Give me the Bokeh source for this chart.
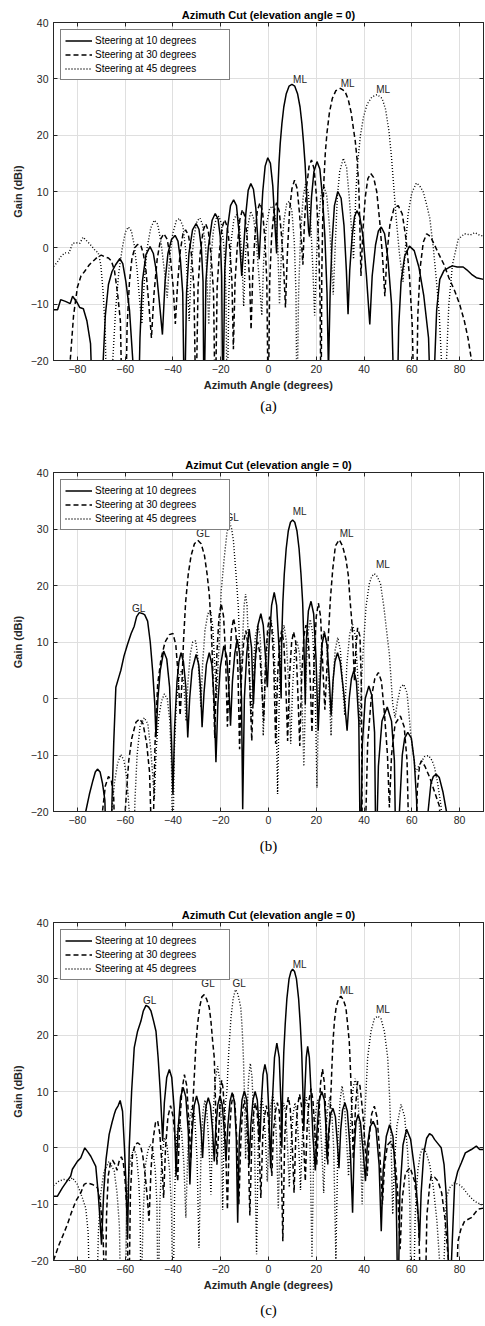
from bokeh.plotting import figure
from bokeh.models import Range1d, LinearAxis, FixedTicker, Legend, LegendItem, Title
from bokeh.layouts import column
from bokeh.embed import file_html
from bokeh.resources import INLINE
from bokeh.core.properties import value

X_TICKS = [-80, -60, -40, -20, 0, 20, 40, 60, 80]
Y_TICKS = [-20, -10, 0, 10, 20, 30, 40]
LEGEND_LABELS = ["Steering at 10 degrees", "Steering at 30 degrees", "Steering at 45 degrees"]
TITLES = ["Azimuth Cut (elevation angle = 0)", "Azimut Cut (elevation angle = 0)", "Azimuth Cut (elevation angle = 0)"]
CAPTIONS = ["(a)", "(b)", "(c)"]

# ---------------- panel (a): (azimuth deg, gain dBi) ----------------
A_STEER10 = [(-90,-11.0),(-88.3,-11.0),(-87,-9.2),(-85,-9.5),(-83,-9.9),(-82,-8.6),(-80,-9.8),(-79,-10.6),(-77.5,-10.8),(-76,-13),(-74.5,-17),(-73.5,-30),
(-70,-30),(-69.2,-20),(-68.3,-12),(-67,-6.5),(-65.5,-4.2),(-64,-3),(-62.2,-1.9),(-61,-2.8),(-59.7,-6),(-58.2,-11),(-56.8,-20),(-56,-30),
(-54.5,-30),(-53.8,-16),(-52.8,-6),(-51.3,-1.2),(-49.6,0.2),(-48.2,-1),(-47,-4),(-45.6,-10),(-44.4,-15.4),
(-43.3,-6),(-42.1,-1),(-40.6,1.5),(-39.1,2.2),(-37.9,1.2),(-36.9,-2),(-35.9,-8),(-35.2,-30),
(-34.3,-8),(-33.3,-1),(-31.8,3.2),(-30.3,4.3),(-29.1,3.3),(-28.1,0),(-27.4,-6),(-27,-30),
(-26.2,-6),(-25.2,0),(-23.6,4.9),(-22.3,6.1),(-21.1,5.1),(-20.2,2),(-19.6,-5),(-19.1,-30),
(-18.3,-4),(-17.3,3),(-15.9,7.5),(-14.6,8.5),(-13.4,7.5),(-12.5,3.5),(-11.8,-1),(-11.2,-5),
(-10.4,0),(-9.5,6),(-8.5,10.2),(-7.4,11.4),(-6.3,10.4),(-5.3,7),(-4.4,1),(-3.9,-2),
(-3.2,4),(-2.4,10),(-1.4,14.5),(-0.3,16),(0.8,15),(1.8,11),(2.7,4),(3.4,-1),
(3.6,4),(3.9,10),(4.4,15),(4.9,18.5),(5.6,22),(6.4,25),(7.4,27.3),(8.6,28.7),(9.8,29),(11,28.7),(12.2,27.3),(13.2,25),(14,22),(14.7,18.5),(15.3,15),(15.8,11),(16.3,6.5),(16.8,3),(17.2,2),
(18,9),(19,13.5),(20.3,15.3),(21.5,14),(22.6,9),(23.6,2),(24.5,-8),(25.1,-22),
(25.8,-8),(26.6,1),(27.6,7.5),(29,10),(30.4,8.8),(31.6,4),(32.6,-4),(33.3,-11.8),
(34,-4),(35,2),(36,5.5),(37,6.6),(38.2,5.6),(39.6,2),(41,-5),(42.4,-13.6),
(43.4,-5),(44.8,0.5),(46,3),(47.2,3.7),(48.6,2.5),(50,-2),(51.5,-10),(52.7,-30),
(53.8,-30),(54.5,-14),(55.5,-6),(57,-1.5),(59,0.3),(61,-0.5),(63,-3.5),(65,-8.5),(67,-16),(68,-30),
(69,-30),(69.6,-20),(70.4,-11),(71.7,-5.6),(73.5,-4),(75.5,-3.5),(77,-3.2),(79,-3.4),(81.5,-3.4),(83,-3.9),(85,-4.7),(87,-5.3),(90,-5.6)]

A_STEER30 = [(-90,-30),(-83.8,-30),(-83,-20),(-81.6,-12),(-80,-7),(-78.5,-5),(-77,-4.2),(-75,-3),(-73,-2.2),(-71.5,-1.6),(-70,-1.3),(-68.5,-1.6),(-67,-1.8),(-65.8,-2.3),(-64.5,-4),(-63.2,-8),(-62,-13),(-61.2,-30),
(-59.8,-30),(-59.2,-14),(-58.2,-6),(-57.2,-2),(-56,0),(-54.8,0.6),(-53.5,0.5),(-52.4,-1),(-51.3,-4),(-50.1,-10),(-49,-16),
(-47.9,-8),(-46.6,-2),(-45.2,1.5),(-43.8,2.5),(-42.4,1.5),(-41,-2),(-39.9,-7),(-39,-13.5),
(-38,-6),(-36.9,-0.5),(-35.8,2.5),(-34.7,3.2),(-33.5,2.2),(-32.3,-1),(-31.2,-7),(-30.4,-30),
(-29.5,-7),(-28.6,-1),(-27.4,3),(-26.3,4.3),(-25.2,3),(-24.1,-1),(-23,-8),(-22.3,-30),
(-21.5,-7),(-20.6,-1),(-19.5,3.5),(-18.4,5),(-17.3,3.8),(-16.2,0),(-15.3,-6),(-14.7,-18),
(-14,-6),(-13.1,0),(-12,5),(-10.9,6.8),(-9.8,5.5),(-8.8,1),(-7.9,-6),(-7.3,-14.5),
(-6.6,-5),(-5.7,2),(-4.7,6.5),(-3.6,8),(-2.5,6.5),(-1.5,1.5),(-0.7,-6),(-0.1,-30),
(0.5,-6),(1.3,2),(2.3,6.5),(3.4,8),(4.5,6.5),(5.5,2),(6.4,-4),(7.1,-10.6),
(7.9,-1),(8.8,6.5),(9.8,10.5),(10.9,12),(12,10.5),(13,6),(13.8,1),(14.4,-3),
(15,4),(16,11),(17,14.5),(18,15.6),(19.1,14),(20.1,9),(21,1),(21.6,-10),(22,-30),
(22.3,-5),(22.7,5),(23.2,12),(23.8,17),(24.5,20.5),(25.5,24),(26.7,26.5),(28.2,27.9),(30.1,28.3),(32,27.8),(33.4,26.3),(34.6,24),(35.6,21),(36.3,19),(37.1,15.6),(37.8,10.8),(38.3,3),(38.7,-5),
(39.5,3),(40.5,9),(41.6,12.3),(42.8,13.2),(44,12.5),(45.3,10),(46.6,4.5),(47.8,-2),(48.7,-8.6),
(49.6,-1),(50.8,4),(52.5,7),(54.3,7.5),(56,6),(57.6,1.5),(59,-5),(60.2,-14),(61,-30),
(61.9,-30),(62.5,-12),(63.5,-3.5),(64.8,1),(66.2,2.5),(67.8,2),(69.5,0.5),(71.5,-1.3),(73.5,-3),(75.5,-5.3),(78,-7.7),(80,-10),(82,-13),(83.5,-16),(85,-20),(86,-30),(90,-30)]

A_STEER45 = [(-90,-3.3),(-88.5,-2.6),(-87,-1.6),(-85.3,-0.9),(-83.5,-0.9),(-82,0.8),(-80.5,0.9),(-79,0.8),(-77.6,1.9),(-76,1.2),(-74,0.3),(-72.5,-0.5),(-71.3,-0.8),(-70.2,-3),(-69.2,-8),(-68.3,-15),(-67.7,-30),
(-66,-30),(-65.2,-20),(-64,-11),(-62.7,-4.5),(-61.2,0),(-59.9,2.8),(-58.7,3.7),(-57.4,3),(-56.2,0.5),(-55,-4),(-53.8,-10),(-53,-13.5),
(-52,-6),(-50.8,0),(-49.3,3.5),(-47.8,4.9),(-46.4,4.2),(-45,1),(-43.6,-4),(-42.4,-8.9),
(-41.4,-2),(-40.1,2.5),(-38.6,4.8),(-37.2,5.2),(-35.8,3.8),(-34.5,-1),(-33.2,-13),
(-32.3,-3),(-31.2,2),(-29.9,4.8),(-28.7,5.3),(-27.5,4),(-26.3,0),(-25,-13.6),
(-24.1,-2),(-23.1,3),(-21.9,5.2),(-20.8,5.6),(-19.7,4.3),(-18.6,0),(-17.8,-8),(-17.3,-30),
(-16.6,-8),(-15.7,1),(-14.5,5),(-13.4,5.9),(-12.3,4.6),(-11.2,-1),(-10.4,-10.4),
(-9.6,-1),(-8.6,4),(-7.4,6.5),(-6.2,5.2),(-5.1,1),(-4,-5),(-2.8,-12),
(-2,-2),(-0.9,4),(0.5,7),(1.7,7.4),(2.9,5.5),(3.9,0),(4.6,-10),
(5.4,-1),(6.5,5),(7.6,7.8),(8.7,8.3),(9.8,6.5),(10.8,1),(11.5,-8),(11.9,-30),
(12.6,-8),(13.5,3),(14.5,9),(15.5,11.3),(16.6,10),(17.6,5),(18.6,-4),(19.3,-12),
(20,-3),(21,5),(22,9.5),(23.2,11),(24.4,9.2),(25.5,4),(26.4,-2),(27.1,-8.3),
(27.9,0),(28.8,9),(29.8,13.5),(31.3,15.9),(32.7,14.2),(33.8,9),(34.8,3),(35.6,-2),
(36.1,4),(36.6,10),(37.3,15),(38.5,20),(39.8,23.3),(41.3,25.5),(43.3,26.8),(45.5,27.2),(47.6,26.5),(49,24.6),(50.4,20.8),(51.5,16),(52.5,10.5),(53.5,5),(54.8,-1),(56.3,-6),
(57.3,0),(58.4,5.9),(60,9.8),(61.9,11.5),(63.3,11),(64.7,10),(66,8),(67.5,5.3),(69,0),(70.3,-5.9),(71.5,-12),(72.4,-20),(73.3,-30),
(74.5,-20),(75.5,-10),(77,-3),(79.4,1.5),(82,2.5),(84.5,2.3),(86.4,2.7),(88.5,2.2),(90,2.1)]

A_LABEL_X = [10.3, 30.2, 45.1]
A_LABEL_Y = [29.9, 29.1, 28.1]
A_LABEL_TEXT = ["ML", "ML", "ML"]

# ---------------- panel (b) ----------------
B_STEER10 = [(-90,-30),(-77,-30),(-76.5,-20),(-75,-17),(-73.5,-14.5),(-72.5,-13),(-71.6,-12.5),(-70.5,-13),(-69.5,-15),(-68.5,-18),(-67.7,-30),
(-66,-30),(-65.5,-18),(-64.8,-8),(-63.9,2),(-62.5,4),(-61.8,5),(-60.5,7.5),(-59,9.6),(-57.5,11.5),(-56.2,12.8),(-55.2,14.5),(-54.1,15.2),(-52.5,15),(-51.8,14.8),(-50.6,13.7),(-49.5,10),(-48.5,4.9),(-47.6,-1),(-47.1,-6.9),
(-46.3,0),(-45.3,5),(-43.9,8.4),(-42.6,7),(-41.4,2),(-40.6,-8),(-40,-17),
(-39.3,-5),(-38.3,3),(-37.5,6.5),(-36.6,8.1),(-35.6,6.5),(-34.6,2),(-33.8,-6.9),
(-33,0),(-32,5),(-30.3,7.8),(-29.2,6),(-28.4,1.5),(-27.8,-5.1),
(-27,1),(-26,6),(-24.8,8.1),(-23.7,6),(-22.8,0),(-22,-11.3),
(-21.2,-1),(-20.2,5.5),(-18.7,9.3),(-17.5,7.5),(-16.6,2),(-15.9,-4.8),
(-15.1,3),(-14.1,8),(-13.1,10.5),(-12.1,8),(-11.3,0),(-10.8,-19.6),
(-10.1,0),(-9.1,8),(-8.1,12.3),(-7.1,9),(-6.3,-1),
(-5.5,7),(-4.4,13),(-3.2,15),(-2.2,13),(-1.2,7),(-0.5,2),
(0.3,10),(1.3,16.5),(2.4,18.8),(3.4,16.5),(4.4,9),(5.3,0),
(5.5,10),(6,17),(6.6,22),(7.4,26.5),(8.3,29.7),(9.2,31.2),(10.1,31.6),(11,31.2),(11.9,29.7),(12.8,26.5),(13.6,22),(14.3,17),(14.8,10),(15.4,-1),
(15.8,10),(16.7,15.5),(17.8,17.2),(18.9,15),(19.9,7),(20.8,-5.7),
(21.6,3),(22.4,9.5),(23.4,11.7),(24.5,9.5),(25.5,3),(26.2,-3),
(27,3),(27.8,6.5),(28.9,8.1),(30,6.5),(31.5,1),(32.9,-5.7),
(33.8,0),(34.7,3.5),(35.7,4.9),(36.8,3),(37.8,-4),(38.5,-30),
(39.3,-8),(40.5,0),(42,2.2),(43.3,0.5),(44.4,-6),(45,-30),
(46,-12),(47.5,-4),(49.7,-1.5),(51.5,-4),(52.7,-11),(53.4,-30),
(54.8,-20),(56,-10),(57,-7),(58.3,-6),(59.8,-7),(61,-11),(62,-18),(62.5,-30),
(66,-30),(66.8,-20),(68,-15),(69,-13.8),(70.2,-13.4),(71.5,-14),(73,-16.5),(74.5,-20),(75.2,-30),(90,-30)]

B_STEER30 = [(-90,-30),(-70.5,-30),(-69.5,-20),(-68.3,-15.5),(-67,-13.8),(-65.8,-14.5),(-64.8,-17.5),(-64,-30),
(-61,-30),(-60,-20),(-58.5,-11),(-57.2,-7),(-55.5,-4.2),(-54,-3.6),(-52.5,-4.5),(-51,-8),(-49.8,-13),(-48.6,-30),
(-47.5,-8),(-46.4,2.5),(-45,7),(-43.3,10),(-41.5,11.3),(-40,11.5),(-38.8,9.5),(-37.8,4),(-37,-3),
(-36.2,3),(-35.6,10),(-34.7,17),(-33.6,22),(-32.4,25.3),(-31,27.4),(-29.6,28),(-28.2,27.4),(-26.8,25.3),(-25.7,22),(-24.8,18.5),(-24,13),(-23.4,6),(-22.9,-1),(-22.5,-7),
(-21.6,8),(-20.7,14.5),(-19.8,16.8),(-18.8,14.5),(-18,8),(-17.2,-5),
(-16.3,6),(-15.5,12),(-14.6,14.2),(-13.7,12),(-12.8,5),(-12.1,-9),
(-11.3,4),(-10.4,10),(-9.5,12),(-8.6,9.5),(-7.8,2),(-7,-7.5),
(-6.2,3),(-5.3,8),(-4.5,10),(-3.6,8),(-2.8,2),(-2,-4),
(-1.2,7),(-0.3,12.5),(0.5,14.5),(1.4,12.5),(2.2,6),(3,-8),
(3.8,4),(4.7,10),(5.5,12),(6.4,10),(7.2,3),(8,-7.5),
(8.8,4),(9.7,10),(10.5,11.8),(11.4,10),(12.2,2),(13.1,-8.4),
(13.9,4),(14.8,11),(15.7,13),(16.6,11),(17.4,4),(18.2,-6),
(19.1,7),(20,14.5),(20.9,16.9),(21.8,14.5),(22.7,6),(23.6,-2),
(24.4,5),(25,10.6),(25.9,17.6),(26.9,22.9),(28,27),(29.6,28.1),(31,27),(32.4,24.7),(33.4,21.8),(34.1,17.6),(35,13),(35.5,8),(36,3),
(36.6,9),(37.3,12.5),(38.3,11),(38.9,2),(39.3,-30),
(40.2,-30),(41.5,-8),(43,0),(44.5,3.5),(46,4.6),(47.3,3),(48.6,-3),(49.8,-10),(50.6,-19.3),
(51.5,-10),(53,-4.5),(55.2,-3.1),(56.8,-5),(58,-11),(59,-30),
(61.5,-30),(62.3,-16),(63.2,-12),(64,-11),(65.5,-12),(67.5,-14),(69.5,-16.5),(71.5,-19),(73.5,-30),(90,-30)]

B_STEER45 = [(-90,-30),(-66.5,-30),(-65.6,-20),(-64.5,-15),(-63.2,-11.5),(-61.8,-9.9),(-60.5,-11),(-59.3,-14),(-58.3,-20),(-57.6,-30),
(-56.6,-30),(-55.9,-18),(-55,-10),(-53.8,-5),(-52,-3.4),(-50.5,-4.5),(-49.3,-9),(-48.4,-14),(-47.8,-17.8),
(-47,-9),(-46,-3.5),(-44.8,-0.5),(-43.6,0.8),(-42.4,0),(-41.3,-4),(-40.6,-12),(-40.1,-30),
(-39.5,-10),(-38.6,-1),(-37.5,3.5),(-36.5,5),(-35.5,3),(-34.5,-4),
(-33.7,3),(-32.7,8),(-31.7,10),(-30.5,10.2),(-29.5,7),(-28.8,2),(-28.3,-1.6),
(-27.6,6),(-26.6,12),(-25.4,15),(-24.3,15.6),(-23.3,12.5),(-22.5,6),(-21.8,0),
(-21.2,5),(-20.6,10),(-19.8,19),(-18.5,25),(-17.4,29.3),(-16.4,31.2),(-15.5,30.2),(-14.7,28),(-13.6,22),(-13.1,19),(-12.6,16),(-12.1,9),(-11.6,2),
(-10.9,10),(-10.2,16.5),(-9.6,18.5),(-9,16.5),(-8.2,8),(-7.3,-4),
(-6.5,5),(-5.5,11),(-4.5,13),(-3.5,11),(-2.8,4),(-2.2,-6.6),
(-1.4,3),(-0.3,11),(1,14),(2.1,11),(3,2),(3.8,-16.9),
(4.6,2),(5.5,10),(6.5,13),(7.5,10),(8.5,2),(9.3,-8),
(10.1,2),(11,8.5),(12,10),(13,8),(14,0),(14.8,-12),
(15.6,3),(16.5,11.5),(17.5,14),(18.5,11.5),(19.5,2),(20.3,-15.8),
(21.1,3),(22.2,9.5),(23.3,12),(24.4,9.5),(25.4,1),(26.2,-6.6),
(27,3),(27.9,8.5),(29,10.8),(30.1,8.5),(31.1,2),(31.9,-3),
(32.8,6),(34,11.5),(35.2,13.1),(36.4,11),(37.5,3),(38.3,-5),
(38.9,3),(39.9,10.3),(40.8,16.2),(42.2,20.3),(43.2,21.6),(44.3,22.1),(45.5,21.6),(46.9,20.3),(48.3,16.2),(49.3,12.5),(49.9,10.3),(50.6,7.8),(52,-1),(53,-3.4),
(54,-0.5),(55.3,2),(56.6,2.5),(58,1),(59.7,-6.9),(61.6,-13),
(63.5,-11.5),(65.3,-10.3),(67,-10.1),(68.5,-11),(69.5,-12.2),(70.8,-15),(72.3,-19.3),(73,-30),(90,-30)]

B_LABEL_X = [-57.1, -30.2, -18.0, 10.1, 29.8, 45.0]
B_LABEL_Y = [16.0, 29.2, 32.0, 33.1, 29.2, 23.7]
B_LABEL_TEXT = ["GL", "GL", "GL", "ML", "ML", "ML"]

# ---------------- panel (c) ----------------
C_STEER10 = [(-90,-8.6),(-88.4,-8.6),(-86.3,-7.1),(-84.5,-6),(-82.8,-5),(-82.1,-3.8),(-80,-2.4),(-78.6,-1.8),(-76.9,0),(-75.5,-0.8),(-74.4,-1.5),(-72.3,-3.3),(-71.3,-8),(-70.5,-13),(-69.9,-17.2),
(-69,-8),(-68,-2),(-66.7,2.4),(-65.5,4.5),(-64.6,5.9),(-63.9,6.8),(-62.9,7.5),(-62.1,8.4),(-61.1,6.5),(-60.3,0),(-59.5,-8),(-59,-16),
(-58.3,0),(-57.3,10),(-56.2,17.8),(-54.8,20.7),(-53.4,22.5),(-52.4,24.3),(-51.3,25.3),(-50.2,25),(-49.2,24.3),(-48.1,22.5),(-47.1,20.7),(-46.2,16),(-45.3,10),(-44.7,5),(-44.3,1.2),
(-43.6,8),(-42.6,12.5),(-41.5,13.9),(-40.5,12.5),(-39.5,7),(-38.7,-5),
(-37.9,3),(-36.8,9),(-35.7,10.7),(-34.6,9),(-33.6,3),(-32.9,-6.5),
(-32.1,2),(-31.1,7.5),(-30.1,9.2),(-29.1,7.5),(-28.2,3),(-27.6,-1.8),
(-26.9,4),(-26.1,7.5),(-25.2,8.9),(-24.3,7.5),(-23.4,3),(-22.7,-2.4),
(-22,4),(-21.2,7.7),(-20.3,9.2),(-19.4,7.7),(-18.5,3),(-17.8,-2.4),
(-17,4),(-16.1,8.3),(-15.2,9.8),(-14.3,8.3),(-13.5,2),(-12.9,-13.3),
(-12.2,2),(-11.1,8.5),(-10.1,10.1),(-9.1,8.5),(-8.6,4),(-8.1,-3),
(-7.4,4),(-6.5,8.5),(-5.6,10),(-4.7,8.5),(-4,4),(-3.6,1),
(-3,8),(-2.3,13),(-1.5,14.8),(-0.6,13),(0.2,6),(0.9,-3.6),
(1.6,8),(2.5,16),(3.5,18.6),(4.5,16),(5.2,8),(5.6,0),
(5.9,10),(6.4,17),(7,22),(7.7,26.5),(8.6,30),(9.4,31.3),(10.1,31.7),(10.9,31.3),(11.7,30),(12.6,26.5),(13.3,22),(13.9,17),(14.4,10),(14.8,3),
(15.2,10),(15.8,16),(16.4,18),(17.1,16),(17.8,10),(18.6,2),(19.6,-4),
(20.3,3),(21.2,8.5),(22.3,10),(23.4,8.5),(24,4),(24.5,-2),
(25.2,3),(26,6),(27,7),(28,5.5),(28.8,1),(29.5,-3.6),
(30.2,3),(31,6.7),(32,8),(33,6.5),(34.3,-1),(35.2,-11.5),
(35.8,-1),(36.6,4.5),(37.5,5.9),(38.5,4.5),(39.7,-1),(40.6,-5.9),
(41.3,0),(42.5,3.7),(43.8,4.7),(45,3.5),(46.3,-3),(47.2,-14.8),
(48,-4),(49.3,2),(50.7,4.1),(52.1,2),(53.4,-7),(54.2,-30),
(55,-8),(56.3,0.5),(57.8,3.3),(59.5,1.5),(61.2,-4),(62.4,-10),(63.2,-16.6),
(63.9,-8),(65,-1),(66.2,1.7),(67.4,2.5),(68.5,2.2),(69.5,1.5),(71,0.7),(72.3,0),(73.5,-3),(74.5,-9),(75.3,-20),(75.8,-30),
(76.6,-20),(77.9,-6.5),(79.2,-4.2),(80.7,-2.7),(82.4,-0.9),(84.9,-0.3),(87,0.3),(88.4,-0.3),(90,-0.3)]

C_STEER30 = [(-90,-20),(-87.7,-17.2),(-86,-15.5),(-84.2,-13.6),(-82.5,-11.5),(-80.7,-9.5),(-78.6,-8),(-77.2,-6.5),(-75.8,-6.2),(-73.7,-6.5),(-71.6,-7.1),(-70.3,-10),(-69.2,-16),(-68.4,-30),
(-67.8,-12),(-67.1,-5),(-66.2,-2.8),(-65.3,-2.2),(-64.2,-3),(-63.4,-4),(-62.6,-2.5),(-61.6,-1.6),(-60.8,-2.5),(-60,-6),(-59.2,-12),(-58.5,-30),
(-57.8,-8),(-56.9,-1),(-55.8,0.6),(-54.8,0.9),(-53.6,0.5),(-52.6,-1.5),(-51.6,-5),(-50.7,-9),(-50,-13),
(-49.2,-4),(-48.3,1.5),(-47.3,4.5),(-46.4,4.8),(-45.5,2.5),(-44.6,-3),(-43.9,-8.9),
(-43.1,0),(-42.1,5.5),(-41,7.5),(-39.9,5.5),(-38.8,0),(-38,-6),
(-37.3,3),(-36.3,10),(-35.2,13),(-34.2,11),(-33.3,4),(-32.5,-2),
(-32,5),(-31.4,10),(-30.9,14),(-30.4,18.3),(-29.7,21.9),(-28.8,25),(-27.9,26.8),(-26.9,27.2),(-25.9,26.4),(-24.8,24.9),(-24.1,22.5),(-23.4,19),(-22.7,16),(-22.3,10),(-21.9,3),(-21.6,-3),
(-20.6,5),(-20.1,10),(-19.6,12),(-19,10.5),(-18.2,4),(-17.2,-11),
(-16.4,2),(-15.6,7.5),(-14.8,9.5),(-14,7.5),(-13.2,1),(-12.4,-10),
(-11.6,1),(-10.9,6.5),(-10.1,8.5),(-9.3,6.5),(-8.5,0),(-7.8,-12),
(-7,1),(-6.3,6),(-5.5,8),(-4.7,6),(-3.9,0),(-3.2,-8.9),
(-2.4,2),(-1.7,5.5),(-0.9,7.5),(-0.1,5.5),(0.7,0),(1.4,-5),
(2.1,3),(2.9,6.5),(3.7,8),(4.5,6.5),(5.3,-1),(6,-16.6),
(6.8,2),(7.5,7),(8.3,9),(9.1,7),(9.9,1),(10.7,-8),
(11.5,3),(12.2,7.5),(13,9.5),(13.8,7.5),(14.6,2),(15.4,-5.9),
(16.2,4),(17,8.5),(17.8,10.5),(18.6,8.5),(19.4,3),(20.2,-3),
(21,5),(21.8,11.5),(22.6,14),(23.4,11.5),(24.2,4),(24.8,-3),
(25.3,2),(25.8,7),(26.2,10.5),(26.6,15),(27,18.9),(27.6,22.5),(28.3,24.9),(29.3,26.5),(30.3,26.9),(31.3,26.3),(32.4,24.9),(33.1,22),(33.8,18.9),(34.2,15),(34.5,11.8),(35,5),(35.5,-2),
(36.4,7),(37.3,11.8),(38.3,11),(39.5,6),(40.5,0),(41.3,-5),
(42.2,2),(43.2,6),(44.3,7.4),(45.4,5.5),(46.6,-1),(47.7,-10),
(48.6,-3),(49.8,0.5),(51.3,1.2),(52.8,-1),(54.1,-8),(55.1,-18),
(56,-9),(57.3,-4.5),(59.3,-3.5),(61.2,-6),(62.8,-13),(64,-30),
(65.5,-30),(66.3,-12),(67.5,-6.5),(68.1,-5),(69.5,-5.2),(70.9,-5.9),(72.5,-8),(74,-13),(75.3,-20),(75.8,-30),
(78.3,-30),(79.3,-16.6),(80.5,-14.5),(82.1,-13),(84.9,-12.4),(87.7,-10.9),(90,-10.7)]

C_STEER45 = [(-90,-6.7),(-87.7,-5.9),(-85.6,-5.6),(-83.5,-5.9),(-82.1,-5.3),(-80,-6.5),(-77.9,-8.9),(-76.5,-10.7),(-75.5,-15),(-74.7,-30),
(-72,-30),(-71.2,-15),(-70.2,-8),(-68.8,-4.1),(-66.7,-2.4),(-64.6,-4.1),(-63.4,-8),(-62.4,-14),(-61.8,-30),
(-60,-30),(-59.3,-10),(-58.3,-3.6),(-57.2,-1),(-56.2,-0.3),(-55.2,-1.5),(-54.3,-6),(-53.7,-12),(-53.4,-30),
(-52.5,-12),(-51.5,-3),(-50.5,-0.5),(-49.5,0.6),(-48.4,-0.5),(-47.4,-4),(-46.7,-10),(-46.2,-30),
(-45.5,-10),(-44.6,-1.5),(-43.6,1.8),(-42.5,0.5),(-41.4,-4),(-40.6,-11),(-40,-30),
(-39.3,-8),(-38.4,2),(-37.4,5),(-36.4,3),(-35.4,-3),(-34.6,-12.4),
(-33.8,-1),(-32.9,5.5),(-31.9,7.5),(-30.9,5.5),(-29.9,-2),(-29.1,-17.8),
(-28.2,0),(-27.4,6.5),(-26.6,8.5),(-25.8,6.5),(-24.9,0),(-24.1,-8.3),
(-23.3,5),(-22.3,12),(-21.3,14.5),(-20.4,12),(-19.7,4),(-19.2,-11),
(-18.6,3),(-18,8),(-17.4,10),(-17,14),(-16.5,18),(-15.7,23.1),(-14.8,26.5),(-13.8,28.1),(-12.8,27.3),(-11.6,24.9),(-11,21),(-10.5,16),(-10.1,10),(-9.8,4),(-9.6,-2),
(-9,6),(-8.3,12.5),(-7.6,15),(-6.9,12.5),(-6,4),(-5,-18.9),
(-4.3,1),(-3.6,6.5),(-2.8,9),(-2,6.5),(-1.2,1),(-0.5,-6),
(0.2,3),(1,7.5),(1.8,9.5),(2.6,7.5),(3.4,1),(4.1,-10.7),
(4.8,1),(5.6,6),(6.4,8),(7.2,6),(8,0),(8.7,-7),
(9.5,1),(10.3,6),(11.1,8),(11.9,6),(12.7,0),(13.4,-7.5),
(14.2,2),(15,7),(15.8,9),(16.6,7),(17.4,0),(18.2,-19.5),
(19,1),(19.8,6.5),(20.6,8.5),(21.4,6.5),(22.3,0),(23.1,-8),
(23.9,2),(24.8,7),(25.6,9),(26.4,7),(27.3,0),(28.2,-19.8),
(29.1,2),(30,8.5),(30.8,11),(31.7,8.5),(32.6,2),(33.5,-5),
(34.4,5),(35.4,10.5),(36.3,12.3),(37.3,10),(38.3,2),(39.2,-10),
(39.8,0),(40.3,5),(40.8,10),(41.5,16),(42.9,20.7),(44.3,22.9),(45.7,23.4),(47.1,22.9),(48.5,20.7),(49.9,16),(50.6,10),(51.2,3),(52,-11.8),
(52.8,-2),(53.8,4),(55.5,7.7),(57,5.5),(58.3,-1),(59.2,-10),(59.7,-30),
(60.6,-30),(61.4,-12),(62.5,-4),(63.6,-1),(64.6,0),(66,-0.8),(67.5,-3),(69,-7),(70.5,-13),(71.6,-20),(72.3,-30),
(73.5,-20),(74.4,-8.9),(75.8,-7.1),(77.9,-6.2),(80,-6.6),(81.4,-7.1),(83.5,-8.3),(86.3,-9.5),(89.1,-10.1),(90,-9.8)]

C_LABEL_X = [-52.5, -28.1, -15.1, 10.1, 29.8, 45.0]
C_LABEL_Y = [26.1, 29.2, 29.2, 32.6, 28.0, 24.5]
C_LABEL_TEXT = ["GL", "GL", "GL", "ML", "ML", "ML"]

FONT = "Liberation Sans"
AX = "#262626"


def make_panel(title, caption, series, lx, ly, lt, height, bottom, xlabel, cap_standoff):
    p = figure(width=485, height=height, x_range=Range1d(-90, 90), y_range=Range1d(-20, 40),
               output_backend="svg", toolbar_location=None,
               min_border_left=53, min_border_right=2, min_border_top=22, min_border_bottom=bottom)
    p.background_fill_color = "white"
    p.outline_line_color = AX
    p.outline_line_width = 1
    p.title.text = title
    p.title.align = "center"
    p.title.text_font = FONT
    p.title.text_font_size = "11px"
    p.title.text_font_style = "bold"
    p.title.text_color = "black"
    p.title.standoff = 3

    for ax in (p.xaxis[0], p.yaxis[0]):
        ax.major_tick_in = 4
        ax.major_tick_out = 0
        ax.minor_tick_line_color = None
        ax.axis_line_color = AX
        ax.major_tick_line_color = AX
        ax.major_label_text_color = AX
        ax.major_label_text_font = FONT
        ax.major_label_text_font_size = "10.5px"
        ax.axis_label_text_font = FONT
        ax.axis_label_text_font_size = "11px"
        ax.axis_label_text_font_style = "bold"
        ax.axis_label_text_color = AX
    p.xaxis.ticker = FixedTicker(ticks=X_TICKS)
    p.yaxis.ticker = FixedTicker(ticks=Y_TICKS)
    p.xaxis.major_label_standoff = 4
    p.yaxis.major_label_standoff = 5
    if xlabel:
        p.xaxis.axis_label = "Azimuth Angle (degrees)"
        p.xaxis.axis_label_standoff = 3
    p.yaxis.axis_label = "Gain (dBi)"
    p.yaxis.axis_label_standoff = 4

    # box-style inward ticks on the top and right edges, without labels
    for loc, tk in (("above", X_TICKS), ("right", Y_TICKS)):
        a = LinearAxis(ticker=FixedTicker(ticks=tk), major_label_text_font_size="1px",
                       major_label_text_color=None,
                       major_tick_in=4, major_tick_out=0, minor_tick_line_color=None,
                       major_label_standoff=0, axis_line_color=AX, major_tick_line_color=AX)
        p.add_layout(a, loc)

    p.xgrid.ticker = FixedTicker(ticks=X_TICKS)
    p.ygrid.ticker = FixedTicker(ticks=Y_TICKS)
    p.grid.grid_line_color = "#dfdfdf"
    p.grid.grid_line_width = 1

    styles = [dict(line_width=1.5, line_dash="solid"),
              dict(line_width=1.5, line_dash="5 3"),
              dict(line_width=1.4, line_dash="1 2")]
    items = []
    for pts, st, lab in zip(series, styles, LEGEND_LABELS):
        xs = [q[0] for q in pts]
        ys = [q[1] for q in pts]
        r = p.line(xs, ys, line_color="black", **st)
        items.append(LegendItem(label=lab, renderers=[r]))

    p.text(x=lx, y=ly, text=lt, text_font=value(FONT), text_font_size=value("10px"),
           text_align="left", text_baseline="middle", text_color=AX)

    leg = Legend(items=items, location="top_left")
    leg.border_line_color = "black"
    leg.border_line_width = 1
    leg.background_fill_alpha = 1
    leg.label_text_font = FONT
    leg.label_text_font_size = "10px"
    leg.label_text_color = "black"
    leg.glyph_width = 27
    leg.glyph_height = 13
    leg.label_height = 13
    leg.label_width = 130
    leg.label_standoff = 3
    leg.spacing = 1
    leg.padding = 4
    leg.margin = 7
    p.add_layout(leg)

    cap = Title(text=caption, align="center", text_font="Liberation Serif",
                text_font_size="15px", text_font_style="normal", text_color="black",
                standoff=cap_standoff)
    p.add_layout(cap, "below")
    return p


pa = make_panel(TITLES[0], CAPTIONS[0], [A_STEER10, A_STEER30, A_STEER45],
                A_LABEL_X, A_LABEL_Y, A_LABEL_TEXT, 450, 90, True, 5)
pb = make_panel(TITLES[1], CAPTIONS[1], [B_STEER10, B_STEER30, B_STEER45],
                B_LABEL_X, B_LABEL_Y, B_LABEL_TEXT, 450, 89, False, 19)
pc = make_panel(TITLES[2], CAPTIONS[2], [C_STEER10, C_STEER30, C_STEER45],
                C_LABEL_X, C_LABEL_Y, C_LABEL_TEXT, 426, 66, True, 13)

layout = column(pa, pb, pc, spacing=0)
open("out.html", "w").write(file_html(layout, INLINE))
